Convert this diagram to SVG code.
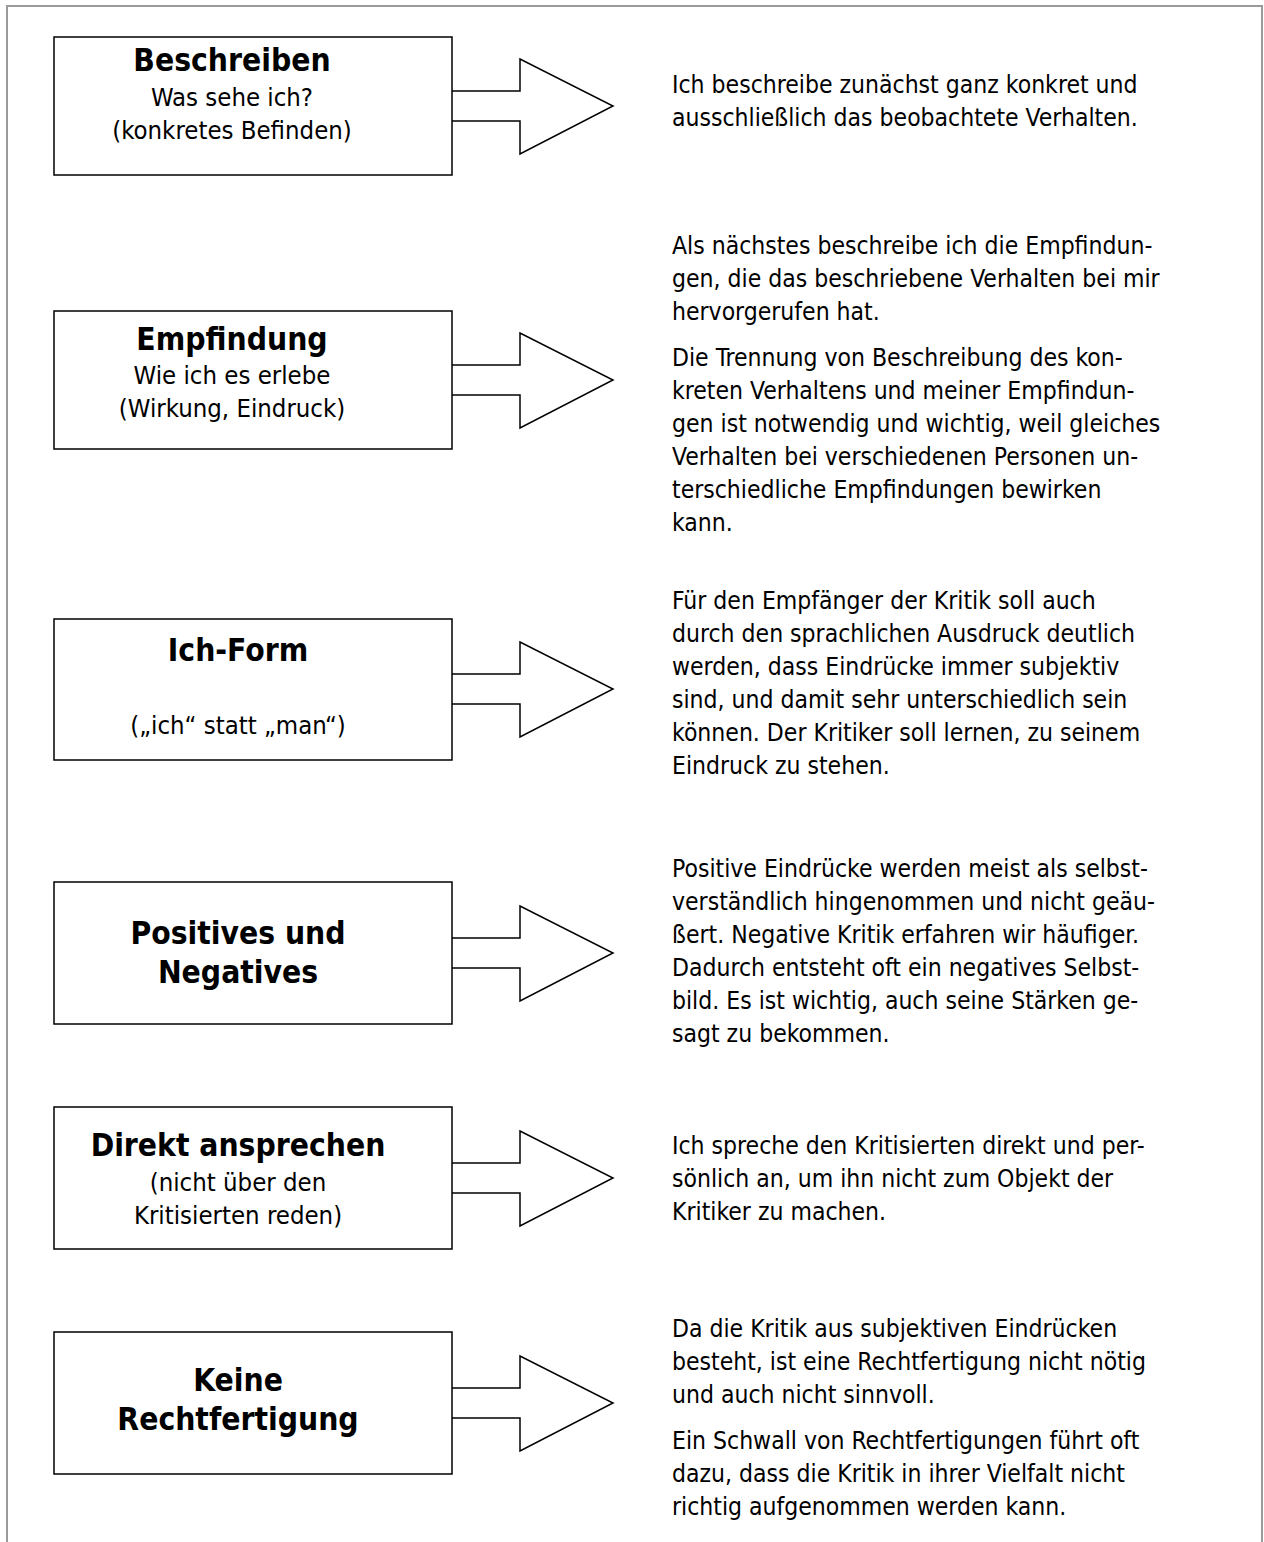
<svg xmlns="http://www.w3.org/2000/svg" width="1264" height="1542" viewBox="0 0 1264 1542">
  <style>
    .frame { fill: none; stroke: #9a9a9a; stroke-width: 2; }
    .box { fill: #ffffff; stroke: #000000; stroke-width: 1.5; }
    .arrow { fill: #ffffff; stroke: #000000; stroke-width: 1.5; stroke-linejoin: miter; }
    .title { font-family: "DejaVu Sans Condensed", "DejaVu Sans", sans-serif; font-stretch: condensed; font-weight: bold; font-size: 31.5px; fill: #000; text-anchor: middle; }
    .sub { font-family: "DejaVu Sans Condensed", "DejaVu Sans", sans-serif; font-stretch: condensed; font-size: 25.5px; fill: #000; text-anchor: middle; }
    .body { font-family: "DejaVu Sans Condensed", "DejaVu Sans", sans-serif; font-stretch: condensed; font-size: 24.5px; fill: #000; }
  </style>

  <rect width="1264" height="1542" fill="#ffffff"/>
  <!-- page frame, open at the bottom -->
  <path class="frame" d="M7,1542 V6 H1262 V1542"/>

  <!-- block arrows leading from each box to its explanation -->
  <g id="connectors">
    <polyline class="arrow" points="452,91 520,91 520,59 613,106 520,154 520,121 452,121"/>
    <polyline class="arrow" points="452,365 520,365 520,333 613,380 520,428 520,395 452,395"/>
    <polyline class="arrow" points="452,674 520,674 520,642 613,689 520,737 520,704 452,704"/>
    <polyline class="arrow" points="452,938 520,938 520,906 613,953 520,1001 520,968 452,968"/>
    <polyline class="arrow" points="452,1163 520,1163 520,1131 613,1178 520,1226 520,1193 452,1193"/>
    <polyline class="arrow" points="452,1388 520,1388 520,1356 613,1403 520,1451 520,1418 452,1418"/>
  </g>

  <g id="beschreiben">
    <rect class="box" x="54" y="37" width="398" height="138"/>
    <text class="title" x="232" y="71">Beschreiben</text>
    <text class="sub" x="232" y="106">Was sehe ich?</text>
    <text class="sub" x="232" y="139">(konkretes Befinden)</text>
  </g>

  <g id="empfindung">
    <rect class="box" x="54" y="311" width="398" height="138"/>
    <text class="title" x="232" y="350">Empfindung</text>
    <text class="sub" x="232" y="384">Wie ich es erlebe</text>
    <text class="sub" x="232" y="417">(Wirkung, Eindruck)</text>
  </g>

  <g id="ich-form">
    <rect class="box" x="54" y="619" width="398" height="141"/>
    <text class="title" x="238" y="661">Ich-Form</text>
    <text class="sub" x="238" y="734">(„ich“ statt „man“)</text>
  </g>

  <g id="positives-negatives">
    <rect class="box" x="54" y="882" width="398" height="142"/>
    <text class="title" x="238" y="944">Positives und</text>
    <text class="title" x="238" y="983">Negatives</text>
  </g>

  <g id="direkt-ansprechen">
    <rect class="box" x="54" y="1107" width="398" height="142"/>
    <text class="title" x="238" y="1156">Direkt ansprechen</text>
    <text class="sub" x="238" y="1191">(nicht über den</text>
    <text class="sub" x="238" y="1224">Kritisierten reden)</text>
  </g>

  <g id="keine-rechtfertigung">
    <rect class="box" x="54" y="1332" width="398" height="142"/>
    <text class="title" x="238" y="1391">Keine</text>
    <text class="title" x="238" y="1430">Rechtfertigung</text>
  </g>

  <!-- explanatory paragraphs -->
  <g id="text-beschreiben" class="body">
    <text x="672" y="93">Ich beschreibe zunächst ganz konkret und</text>
    <text x="672" y="126">ausschließlich das beobachtete Verhalten.</text>
  </g>

  <g id="text-empfindung" class="body">
    <text x="672" y="254">Als nächstes beschreibe ich die Empfindun-</text>
    <text x="672" y="287">gen, die das beschriebene Verhalten bei mir</text>
    <text x="672" y="320">hervorgerufen hat.</text>
    <text x="672" y="366">Die Trennung von Beschreibung des kon-</text>
    <text x="672" y="399">kreten Verhaltens und meiner Empfindun-</text>
    <text x="672" y="432">gen ist notwendig und wichtig, weil gleiches</text>
    <text x="672" y="465">Verhalten bei verschiedenen Personen un-</text>
    <text x="672" y="498">terschiedliche Empfindungen bewirken</text>
    <text x="672" y="531">kann.</text>
  </g>

  <g id="text-ich-form" class="body">
    <text x="672" y="609">Für den Empfänger der Kritik soll auch</text>
    <text x="672" y="642">durch den sprachlichen Ausdruck deutlich</text>
    <text x="672" y="675">werden, dass Eindrücke immer subjektiv</text>
    <text x="672" y="708">sind, und damit sehr unterschiedlich sein</text>
    <text x="672" y="741">können. Der Kritiker soll lernen, zu seinem</text>
    <text x="672" y="774">Eindruck zu stehen.</text>
  </g>

  <g id="text-positives-negatives" class="body">
    <text x="672" y="877">Positive Eindrücke werden meist als selbst-</text>
    <text x="672" y="910">verständlich hingenommen und nicht geäu-</text>
    <text x="672" y="943">ßert. Negative Kritik erfahren wir häufiger.</text>
    <text x="672" y="976">Dadurch entsteht oft ein negatives Selbst-</text>
    <text x="672" y="1009">bild. Es ist wichtig, auch seine Stärken ge-</text>
    <text x="672" y="1042">sagt zu bekommen.</text>
  </g>

  <g id="text-direkt-ansprechen" class="body">
    <text x="672" y="1154">Ich spreche den Kritisierten direkt und per-</text>
    <text x="672" y="1187">sönlich an, um ihn nicht zum Objekt der</text>
    <text x="672" y="1220">Kritiker zu machen.</text>
  </g>

  <g id="text-keine-rechtfertigung" class="body">
    <text x="672" y="1337">Da die Kritik aus subjektiven Eindrücken</text>
    <text x="672" y="1370">besteht, ist eine Rechtfertigung nicht nötig</text>
    <text x="672" y="1403">und auch nicht sinnvoll.</text>
    <text x="672" y="1449">Ein Schwall von Rechtfertigungen führt oft</text>
    <text x="672" y="1482">dazu, dass die Kritik in ihrer Vielfalt nicht</text>
    <text x="672" y="1515">richtig aufgenommen werden kann.</text>
  </g>
</svg>
